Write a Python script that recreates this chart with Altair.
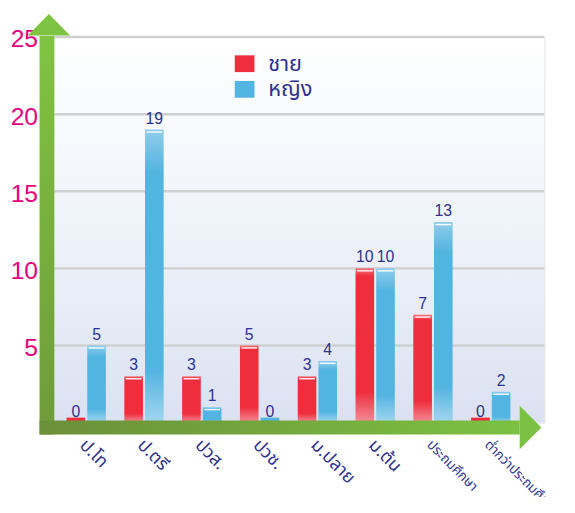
import altair as alt
import pandas as pd

categories = ["ป.โท", "ป.ตรี", "ปวส.", "ปวช.", "ม.ปลาย", "ม.ต้น", "ประถมศึกษา", "ต่ำกว่าประถมศึกษา"]
sexes = ["ชาย", "หญิง"]
male = [0, 3, 3, 5, 3, 10, 7, 0]
female = [5, 19, 1, 0, 4, 10, 13, 2]
y_ticks = [5, 10, 15, 20, 25]

rows = []
for c, m, f in zip(categories, male, female):
    rows.append({"cat": c, "sex": sexes[0], "value": m})
    rows.append({"cat": c, "sex": sexes[1], "value": f})
df = pd.DataFrame(rows)
grid_df = pd.DataFrame({"value": y_ticks})

W, H = 497, 391
RED = "#ee2d3d"
BLUE = "#52b4e0"
INK = "#2e3192"
THAI = "Noto Sans Thai, Tahoma, Noto Sans, sans-serif"

x_enc = alt.X(
    "cat:N", sort=categories,
    scale=alt.Scale(range=[3, 472], paddingInner=0.32, paddingOuter=0.16),
    axis=alt.Axis(title=None, domain=False, ticks=False, grid=False,
                  labelAngle=45, labelAlign="left", labelBaseline="middle",
                  labelPadding=20, labelOffset=-4, labelColor=INK, labelFont=THAI,
                  labelFontSize={"condition": {"test": "length(datum.label) > 7", "value": 13.5}, "value": 18},
                  labelLimit=0, labelOverlap=False),
)
xoff = alt.XOffset("sex:N", sort=sexes, scale=alt.Scale(domain=sexes, paddingInner=0.1))
y_enc = alt.Y(
    "value:Q", scale=alt.Scale(domain=[0, 25], nice=False),
    axis=alt.Axis(values=y_ticks, title=None, domain=False, ticks=False, grid=False,
                  labelColor="#e6007e", labelFont="Liberation Sans", labelFontSize=25,
                  labelPadding=17, labelOffset=2),
)

def grad_v(stops):
    return alt.LinearGradient(gradient="linear", x1=0, x2=0, y1=0, y2=1,
                              stops=[alt.GradientStop(color=c, offset=o) for o, c in stops])

def grad_h(stops):
    return alt.LinearGradient(gradient="linear", x1=0, x2=1, y1=0, y2=0,
                              stops=[alt.GradientStop(color=c, offset=o) for o, c in stops])

deco = alt.Data(values=[{"k": 1}])

background = alt.Chart(deco).mark_rect(
    color=grad_v([(0, "#ffffff"), (0.5, "#eef3fa"), (1, "#dce1f2")])
).encode(x=alt.value(0), x2=alt.value(W), y=alt.value(0), y2=alt.value(H))

grid = alt.Chart(grid_df).mark_rule(color="#d0d0d0", strokeWidth=2.5).encode(
    y=y_enc, x=alt.value(0), x2=alt.value(W))

base = alt.Chart(df)

red_grad = grad_v([(0, "#f4727c"), (0.05, RED), (0.8, RED), (1, "#f48d97")])
blue_grad = grad_v([(0, "#8fcdeb"), (0.15, BLUE), (0.82, BLUE), (1, "#a2d6ef")])

layers = [background, grid]
for sex, g, col in [(sexes[0], red_grad, RED), (sexes[1], blue_grad, BLUE)]:
    src = base.transform_filter(alt.datum.sex == sex)
    layers.append(src.mark_bar(color=g).encode(x=x_enc, xOffset=xoff, y=y_enc))
    layers.append(src.transform_filter(alt.datum.value == 0).mark_tick(
        color=col, thickness=5, size=19, yOffset=-2.5, opacity=1).encode(x=x_enc, xOffset=xoff, y=y_enc))
    layers.append(src.mark_tick(color="white", thickness=1.5, size=16, yOffset=2.5, opacity=0.9).encode(
        x=x_enc, xOffset=xoff, y=y_enc))

v_shaft = alt.Chart(deco).mark_rect(
    color=grad_v([(0, "#80c342"), (1, "#6f9a3b")])
).encode(x=alt.value(-15), x2=alt.value(0), y=alt.value(-1), y2=alt.value(403))
h_shaft = alt.Chart(deco).mark_rect(
    color=grad_h([(0, "#6b8f39"), (1, "#7cc142")])
).encode(x=alt.value(-15), x2=alt.value(472), y=alt.value(389), y2=alt.value(403))
up_head = alt.Chart(deco).mark_point(
    shape="M-1,0.512L0,-0.512L1,0.512Z", size=1849, filled=True, color="#7ec342", opacity=1, strokeWidth=0
).encode(x=alt.value(-5.5), y=alt.value(-12.5))
right_head = alt.Chart(deco).mark_point(
    shape="M-0.5,-1L0.5,0L-0.5,1Z", size=1936, filled=True, color="#7bc143", opacity=1, strokeWidth=0
).encode(x=alt.value(483), y=alt.value(396))

labels = base.mark_text(baseline="bottom", dy=-3, fontSize=16, color=INK, font="Liberation Sans").encode(
    x=x_enc, xOffset=xoff, y=y_enc, text="value:Q")

legend_layer = base.mark_square(opacity=0).encode(
    x=x_enc, xOffset=xoff, y=y_enc,
    color=alt.Color("sex:N", sort=sexes, scale=alt.Scale(domain=sexes, range=[RED, BLUE]),
                    legend=alt.Legend(title=None, orient="none", legendX=182, legendY=16,
                                      symbolType="M-1,-0.85H1V0.85H-1Z", symbolSize=400,
                                      symbolOpacity=1, symbolStrokeWidth=0,
                                      labelFont=THAI, labelFontSize=22, labelColor=INK,
                                      labelOffset=13, rowPadding=4, padding=0)),
)

layers += [v_shaft, h_shaft, up_head, right_head, labels, legend_layer]

chart = alt.layer(*layers).properties(
    width=W, height=H,
    autosize=alt.AutoSizeParams(type="none"),
    padding={"left": 47, "top": 26, "right": 23, "bottom": 72},
).configure_view(stroke=None).configure(background="white")

chart.save("out.html", embed_options={"renderer": "svg", "actions": False})
